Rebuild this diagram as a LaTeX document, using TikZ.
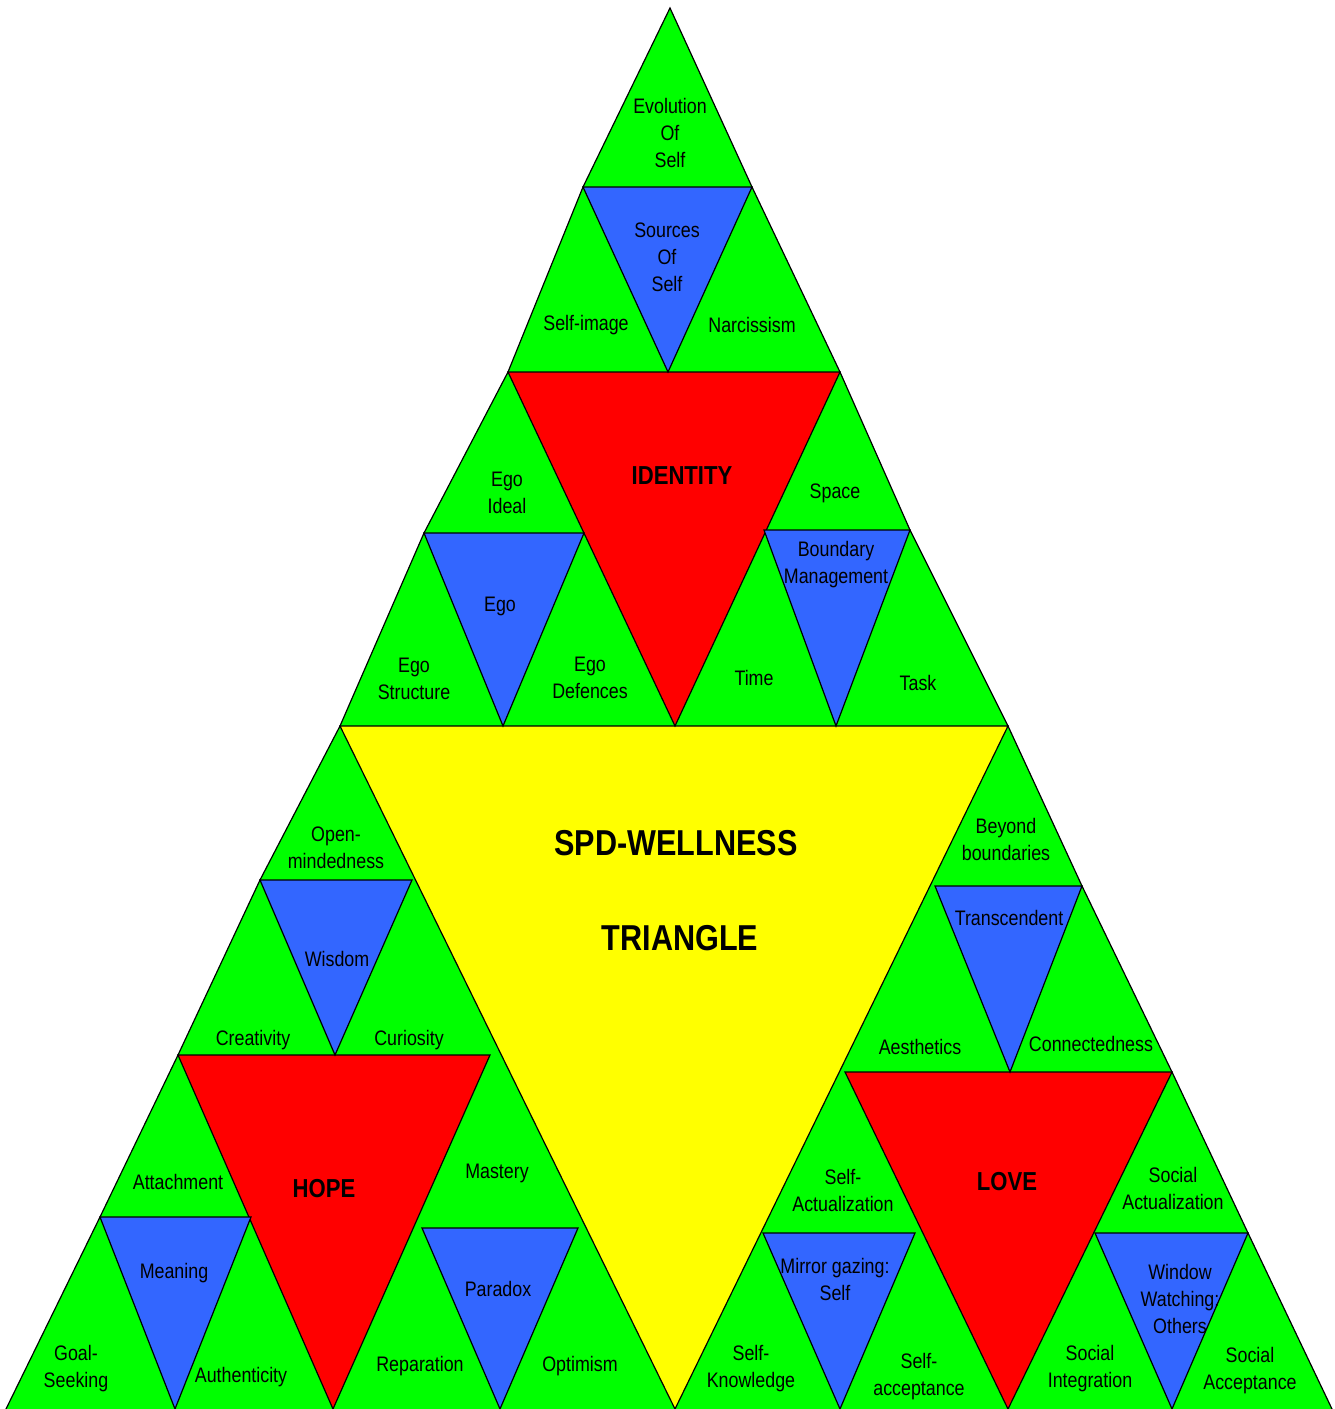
\documentclass[tikz,border=0pt]{standalone}
\usepackage{fontspec}
\setmainfont{Liberation Sans}[FakeStretch=0.85]
\definecolor{gfill}{HTML}{00FF00}
\definecolor{bfill}{HTML}{3366FF}
\definecolor{rfill}{HTML}{FF0000}
\definecolor{yfill}{HTML}{FFFF00}
\tikzset{
  tri/.style={draw=black, line width=1.2pt, line join=miter},
  lbl/.style={align=center, inner sep=0pt, yshift=-2pt, font=\fontsize{21}{27}\selectfont},
  ttl/.style={inner sep=0pt, font=\fontsize{36}{40}\selectfont\bfseries},
  sub/.style={inner sep=0pt, font=\fontsize{26}{30}\selectfont\bfseries},
}
\begin{document}
\begin{tikzpicture}[x=1pt,y=-1pt]
\useasboundingbox (0,0) rectangle (1335,1409);
\begin{scope}
\clip (0,0) rectangle (1335,1409);
% outer green triangle
\fill[gfill] (670,8) -- (583,187) -- (508,372) -- (424,533) -- (340,726) -- (260,880) -- (178,1055) -- (100,1217) -- (6,1409)
  -- (1332,1409) -- (1248,1233) -- (1172,1072) -- (1082,886) -- (1008,726) -- (910,530) -- (840,372) -- (752,187) -- cycle;
\draw[tri] (6,1409) -- (100,1217) -- (178,1055) -- (260,880) -- (340,726) -- (424,533) -- (508,372) -- (583,187) -- (670,8)
  -- (752,187) -- (840,372) -- (910,530) -- (1008,726) -- (1082,886) -- (1172,1072) -- (1248,1233) -- (1332,1409);
% yellow centre
\filldraw[tri, fill=yfill] (340,726) -- (1008,726) -- (675,1409) -- cycle;
% red
\filldraw[tri, fill=rfill] (508,372) -- (840,372) -- (675,726) -- cycle;
\filldraw[tri, fill=rfill] (178,1055) -- (490,1055) -- (333,1409) -- cycle;
\filldraw[tri, fill=rfill] (845,1072) -- (1172,1072) -- (1008,1409) -- cycle;
% blue
\filldraw[tri, fill=bfill] (583,187) -- (752,187) -- (668,372) -- cycle;
\filldraw[tri, fill=bfill] (424,533) -- (584,533) -- (503,726) -- cycle;
\filldraw[tri, fill=bfill] (764,530) -- (910,530) -- (836,726) -- cycle;
\filldraw[tri, fill=bfill] (260,880) -- (412,880) -- (335,1055) -- cycle;
\filldraw[tri, fill=bfill] (935,886) -- (1082,886) -- (1010,1072) -- cycle;
\filldraw[tri, fill=bfill] (100,1217) -- (251,1217) -- (175,1409) -- cycle;
\filldraw[tri, fill=bfill] (422,1228) -- (578,1228) -- (500,1409) -- cycle;
\filldraw[tri, fill=bfill] (763,1233) -- (915,1233) -- (840,1409) -- cycle;
\filldraw[tri, fill=bfill] (1095,1233) -- (1248,1233) -- (1172,1409) -- cycle;
\end{scope}
% labels
\node[lbl] (evo) at (670,131) {Evolution\\Of\\Self};
\node[lbl] (src) at (667,255) {Sources\\Of\\Self};
\node[lbl] (simg) at (586,323) {Self-image};
\node[lbl] (narc) at (752,323) {Narcissism};
\node[sub] (ident) at (682,476) {IDENTITY};
\node[lbl] (egoi) at (507,491) {Ego\\Ideal};
\node[lbl] (space) at (835,491) {Space};
\node[lbl] (ego) at (500,604) {Ego};
\node[lbl] (bound) at (836,563) {Boundary\\Management};
\node[lbl] (egos) at (414,677) {Ego\\Structure};
\node[lbl] (egod) at (590,676) {Ego\\Defences};
\node[lbl] (time) at (754,676) {Time};
\node[lbl] (task) at (918,681) {Task};
\node[ttl] (spd) at (676,843) {SPD-WELLNESS};
\node[ttl] (trig) at (680,938) {TRIANGLE};
\node[lbl] (open) at (336,846) {Open-\\mindedness};
\node[lbl] (beyond) at (1006,837) {Beyond\\boundaries};
\node[lbl] (wis) at (337,957) {Wisdom};
\node[lbl] (trans) at (1009,916) {Transcendent};
\node[lbl] (crea) at (253,1038) {Creativity};
\node[lbl] (curi) at (409,1038) {Curiosity};
\node[lbl] (aest) at (920,1045) {Aesthetics};
\node[lbl] (conn) at (1091,1042) {Connectedness};
\node[lbl] (att) at (178,1180) {Attachment};
\node[sub] (hope) at (324,1189) {HOPE};
\node[lbl] (mast) at (497,1171) {Mastery};
\node[lbl] (sact) at (843,1188) {Self-\\Actualization};
\node[sub] (love) at (1007,1182) {LOVE};
\node[lbl] (socact) at (1173,1186) {Social\\Actualization};
\node[lbl] (mean) at (174,1271) {Meaning};
\node[lbl] (para) at (498,1287) {Paradox};
\node[lbl] (mirr) at (835,1277) {Mirror gazing:\\Self};
\node[lbl] (wind) at (1180,1297) {Window\\Watching:\\Others};
\node[lbl] (goal) at (76,1367) {Goal-\\Seeking};
\node[lbl] (auth) at (241,1375) {Authenticity};
\node[lbl] (repa) at (420,1364) {Reparation};
\node[lbl] (opti) at (580,1364) {Optimism};
\node[lbl] (sknow) at (751,1367) {Self-\\Knowledge};
\node[lbl] (sacc) at (919,1375) {Self-\\acceptance};
\node[lbl] (sint) at (1090,1367) {Social\\Integration};
\node[lbl] (socacc) at (1250,1369) {Social\\Acceptance};
\end{tikzpicture}
\end{document}
